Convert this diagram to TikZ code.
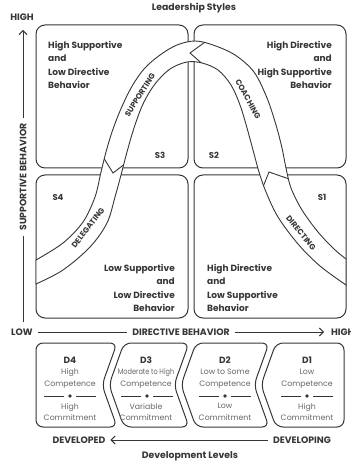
\documentclass[tikz,border=0pt]{standalone}
\usepackage{fontspec}
\setmainfont{Poppins}
\usetikzlibrary{arrows.meta}
\definecolor{ink}{HTML}{363636}
\definecolor{soft}{HTML}{666666}
\begin{document}
\begin{tikzpicture}[x=1pt,y=-1pt,
  quad/.style={draw=ink, line width=1pt, rounded corners=9pt, inner sep=0pt},
  dbox/.style={draw=ink, line width=1pt, rounded corners=7pt},
  band/.style={draw=ink, line width=0.9pt, fill=white},
  txt/.style={font=\bfseries\fontsize{9}{13.3}\selectfont, text=ink, inner sep=0pt},
  slabel/.style={font=\bfseries\fontsize{8.5}{9}\selectfont, text=ink, inner sep=0pt},
  bandtext/.style={font=\bfseries\fontsize{7.8}{9}\selectfont, text=ink, inner sep=0pt},
  axistext/.style={font=\bfseries\fontsize{9.3}{10}\selectfont, text=ink, inner sep=0pt, outer sep=5pt},
  title/.style={font=\bfseries\fontsize{9.3}{10}\selectfont, text=ink, inner sep=0pt},
  axis/.style={draw=ink, line width=1pt},
  tip/.style={-{Straight Barb[length=4pt,width=8pt,line width=1pt]}},
  dhead/.style={font=\bfseries\fontsize{9}{12}\selectfont, text=ink, inner sep=0pt, align=center},
  dtext/.style={font=\fontsize{7.8}{11.8}\selectfont, text=soft, inner sep=0pt, align=center},
  sepdot/.pic={
    \draw[draw=ink, line width=0.9pt] (-26,0) -- (-6,0);
    \fill[ink] (0,0) circle (1.8);
    \draw[draw=ink, line width=0.9pt] (6,0) -- (26,0);
  }
]
\useasboundingbox (0,0) rectangle (350,462);

% four quadrants
\node[quad, minimum width=152pt, minimum height=143pt] (q3) at (112,96.5) {};
\node[quad, minimum width=152pt, minimum height=143pt] (q2) at (270,96.5) {};
\node[quad, minimum width=152pt, minimum height=143pt] (q4) at (112,246.5) {};
\node[quad, minimum width=152pt, minimum height=143pt] (q1) at (270,246.5) {};

% bell-shaped band of leadership styles
\path[save path=\bandshape]
  plot[smooth, tension=0.55] coordinates {
    (36,260) (63,243) (83,222) (95,197) (101,172) (106,152) (112,132)
    (120,111) (131,88) (144,69) (160,55) (177,45) (195,41) (213,45)
    (235,55) (254,72) (267,98) (276,125) (282,148) (286,168) (291,188)
    (302,210) (318,232) (334,249) (346,259)}
  -- plot[smooth, tension=0.55] coordinates {
    (346,285) (320,266) (298,244) (278,217) (266,192) (259,172) (253,150)
    (247,128) (240,105) (231,85) (218,70) (202,63) (187,62) (170,69)
    (155,84) (143,104) (134,128) (127,152) (121,175) (115,197) (107,223)
    (90,247) (63,270) (36,284)}
  -- cycle;
\path[band, use path=\bandshape];
\begin{scope}
  \clip[use path=\bandshape];
  \draw[draw=ink, line width=0.9pt] (100,152) -- (113,173) -- (130,160);
  \draw[draw=ink, line width=0.9pt] (212,37) -- (190,53) -- (207,68);
  \draw[draw=ink, line width=0.9pt] (261,192) -- (269,172) -- (292,180);
\end{scope}

% style names along the band
\node[bandtext, rotate=58] (supporting) at (140,95) {SUPPORTING};
\node[bandtext, rotate=-61] (coaching) at (248,99) {COACHING};
\node[bandtext, rotate=52] (delegating) at (88,228) {DELEGATING};
\node[bandtext, rotate=-51] (directing) at (301,233) {DIRECTING};

% quadrant descriptions
\node[txt, anchor=north west, align=left] (d3txt) at (48,41)
  {High Supportive\\and\\Low Directive\\Behavior};
\node[txt, anchor=north east, align=right] (d2txt) at (332,41)
  {High Directive\\and\\High Supportive\\Behavior};
\node[txt, anchor=north east, align=right] (d4txt) at (175,264)
  {Low Supportive\\and\\Low Directive\\Behavior};
\node[txt, anchor=north west, align=left] (d1txt) at (207,264)
  {High Directive\\and\\Low Supportive\\Behavior};

\node[slabel] (s3) at (160,155) {S3};
\node[slabel] (s2) at (214,155) {S2};
\node[slabel] (s4) at (58,197) {S4};
\node[slabel] (s1) at (322,197) {S1};

% titles
\node[title] (lstyles) at (194,8) {Leadership Styles};
\node[title] (dlevels) at (190,456) {Development Levels};

% supportive axis
\node[axistext] (yhigh) at (22,17) {HIGH};
\node[axistext, rotate=90] (ylabel) at (23,177) {SUPPORTIVE BEHAVIOR};
\coordinate (ytop) at (23,30);
\coordinate (ybot) at (23,322);
\draw[axis, tip] (ylabel.east) -- (ytop);
\draw[axis] (ylabel.west) -- (ybot);

% directive axis
\node[axistext] (xlow) at (22,332) {LOW};
\node[axistext] (xlabel) at (181,332) {DIRECTIVE BEHAVIOR};
\node[axistext, anchor=west, outer sep=0pt] (xhigh) at (331,332) {HIGH};
\draw[axis] (xlow.east) -- (xlabel.west);
\draw[axis, tip] (xlabel.east) -- ([xshift=-7pt]xhigh.west);

% development level boxes
\draw[dbox] (36,385) -- (36,343) -- (117,343) -- (102,385) -- (117,427) -- (36,427) -- cycle;
\draw[dbox] (124,343) -- (189,343) -- (174,385) -- (189,427) -- (124,427) -- (109,385) -- cycle;
\draw[dbox] (196,343) -- (269,343) -- (254,385) -- (269,427) -- (196,427) -- (181,385) -- cycle;
\draw[dbox] (276,343) -- (344,343) -- (344,427) -- (276,427) -- (261,385) -- cycle;

\node[dhead] (d4h) at (70,360) {D4};
\node[dtext] (d4a) at (70,378.5) {High\\Competence};
\pic at (70,396) {sepdot};
\node[dtext] (d4b) at (70,412) {High\\Commitment};

\node[dhead] (d3h) at (146,360) {D3};
\node[dtext] (d3a) at (146,378.5) {\scalebox{0.84}[1]{Moderate to High}\\Competence};
\pic at (147,396) {sepdot};
\node[dtext] (d3b) at (146,412) {Variable\\Commitment};

\node[dhead] (d2h) at (225,360) {D2};
\node[dtext] (d2a) at (225,378.5) {Low to Some\\Competence};
\pic at (225,396) {sepdot};
\node[dtext] (d2b) at (225,412) {Low\\Commitment};

\node[dhead] (d1h) at (307,360) {D1};
\node[dtext] (d1a) at (307,378.5) {Low\\Competence};
\pic at (307,396) {sepdot};
\node[dtext] (d1b) at (307,412) {High\\Commitment};

% development direction
\node[axistext] (developed) at (79,440) {DEVELOPED};
\node[axistext] (developing) at (302,440) {DEVELOPING};
\draw[axis, tip] (developing.west) -- (developed.east);
\end{tikzpicture}
\end{document}
